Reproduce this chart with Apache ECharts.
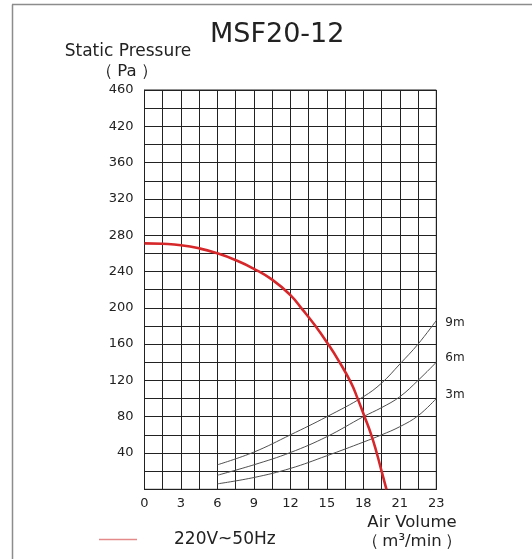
<!DOCTYPE html>
<html>
<head>
<meta charset="utf-8">
<script src="https://cdn.jsdelivr.net/npm/echarts@6/dist/echarts.min.js"></script>
<style>
html,body{margin:0;padding:0;background:#fff;}
#chart{width:532px;height:559px;}
</style>
</head>
<body>
<div id="chart"></div>
<script>
// ---- data ----
var xTickValues = [0, 3, 6, 9, 12, 15, 18, 21, 24];
var xTickLabels = ['0', '3', '6', '9', '12', '15', '18', '21', '23'];
var yTickValues = [40, 80, 120, 160, 200, 240, 280, 320, 360, 400, 440];
var yTickLabels = ['40', '80', '120', '160', '200', '240', '280', '320', '360', '420', '460'];

var fanName = '220V~50Hz';
var fanFlow = [0, 1.5, 3, 4.5, 6, 7.5, 9, 10.5, 12, 13, 14, 15, 16, 17, 17.5, 18.1, 18.65, 19.1, 19.5, 19.9];
var fanPressure = [271, 270.5, 269, 265.5, 260, 252.5, 243, 231, 214, 198, 181, 162, 141, 117, 101, 80, 60, 40, 20, 0];

var sysFlow = [6, 9, 12, 15, 18, 19.5, 21, 22.5, 24];
var sys9m = [27, 41, 60, 80, 102, 117, 138, 160, 186];
var sys6m = [15.5, 27, 40.5, 58, 80, 90, 102, 120, 140];
var sys3m = [6, 13, 23, 37, 52, 60, 69, 81, 100];
var sysNames = ['9m', '6m', '3m'];

var FONT = '"DejaVu Sans", sans-serif';

function pairs(xs, ys) { return xs.map(function (x, i) { return [x, ys[i]]; }); }
function tickFormatter(values, labels) {
  return function (v) {
    for (var i = 0; i < values.length; i++) {
      if (Math.abs(values[i] - v) < 1e-6) return labels[i];
    }
    return '';
  };
}

var chart = echarts.init(document.getElementById('chart'), null, {renderer: 'canvas'});

function sysSeries(name, ys, offY) {
  return {
    name: name,
    type: 'line',
    data: pairs(sysFlow, ys),
    smooth: 0.4,
    showSymbol: false,
    lineStyle: {color: '#505050', width: 1},
    endLabel: {show: true, formatter: name, distance: 9, offset: [0, offY],
      fontSize: 12, fontFamily: FONT, color: '#222'},
    z: 3,
    silent: true
  };
}

function parenRich(gap) {
  return {
    t: {fontFamily: FONT, fontSize: 16.5, fill: '#222', padding: [0, gap, 0, gap]}
  };
}

chart.setOption({
  animation: false,
  backgroundColor: '#fff',
  title: {
    text: 'MSF20-12',
    left: 205, top: 16,
    textStyle: {fontSize: 27, fontWeight: 'normal', color: '#222', fontFamily: FONT}
  },
  legend: {
    data: [{name: fanName, itemStyle: {color: '#e58a8a'}}],
    left: 94, top: 526,
    icon: 'rect',
    itemWidth: 38, itemHeight: 1.5,
    textStyle: {fontSize: 17, color: '#222', fontFamily: FONT, padding: [0, 0, 0, 32]}
  },
  grid: {left: 144.5, right: 95.7, top: 90, bottom: 69.7, show: true, borderColor: '#222', borderWidth: 1},
  xAxis: {
    type: 'value', min: 0, max: 24, interval: 1.5,
    axisLine: {show: true, lineStyle: {color: '#222', width: 1}},
    axisTick: {show: false},
    splitLine: {show: true, lineStyle: {color: '#222', width: 1}},
    axisLabel: {formatter: tickFormatter(xTickValues, xTickLabels), margin: 8,
      fontSize: 13, color: '#222', fontFamily: FONT, showMaxLabel: true, showMinLabel: true}
  },
  yAxis: {
    type: 'value', min: 0, max: 440, interval: 20,
    axisLine: {show: true, lineStyle: {color: '#222', width: 1}},
    axisTick: {show: false},
    splitLine: {show: true, lineStyle: {color: '#222', width: 1}},
    axisLabel: {formatter: tickFormatter(yTickValues, yTickLabels), margin: 11,
      fontSize: 13, color: '#222', fontFamily: FONT, showMaxLabel: true}
  },
  graphic: [
    {type: 'line', shape: {x1: 12, y1: 4.5, x2: 532, y2: 4.5}, style: {stroke: '#8c8c8c', lineWidth: 1.5}},
    {type: 'line', shape: {x1: 12.5, y1: 4.5, x2: 12.5, y2: 559}, style: {stroke: '#8c8c8c', lineWidth: 1.5}},
    {type: 'text', x: 128, y: 52, style: {text: 'Static Pressure', align: 'center', verticalAlign: 'middle', fontSize: 17, fontFamily: FONT, fill: '#222'}},
    {type: 'text', x: 127, y: 72, style: {text: '（{t|Pa}）', rich: parenRich(4), align: 'center', verticalAlign: 'middle', fontSize: 16.5, fontFamily: FONT, fill: '#222'}},
    {type: 'text', x: 412, y: 523, style: {text: 'Air Volume', align: 'center', verticalAlign: 'middle', fontSize: 16.5, fontFamily: FONT, fill: '#222'}},
    {type: 'text', x: 412, y: 542, style: {text: '（{t|m³/min}）', rich: parenRich(3), align: 'center', verticalAlign: 'middle', fontSize: 16.5, fontFamily: FONT, fill: '#222'}}
  ],
  series: [
    sysSeries(sysNames[0], sys9m, 2),
    sysSeries(sysNames[1], sys6m, -4),
    sysSeries(sysNames[2], sys3m, -4),
    {
      name: fanName,
      type: 'line',
      data: pairs(fanFlow, fanPressure),
      smooth: 0.5,
      showSymbol: false,
      lineStyle: {color: '#d6282b', width: 2.6},
      itemStyle: {color: '#d6282b'},
      z: 5
    }
  ]
});
</script>
</body>
</html>
